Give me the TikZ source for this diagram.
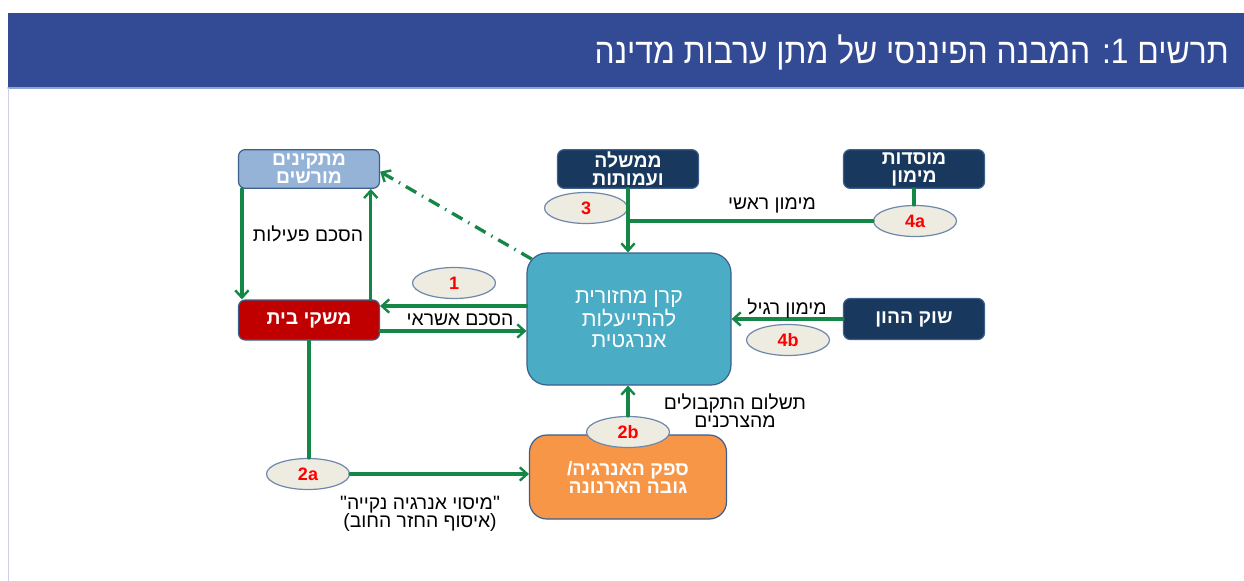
\documentclass[tikz,border=0pt]{standalone}
\usepackage{fontspec}
\usetikzlibrary{arrows.meta,shapes.geometric}
\TeXXeTstate=1
\newfontfamily\hebfont[Script=Hebrew]{Liberation Sans}
\newfontfamily\titlefont[Script=Hebrew, FakeStretch=0.9]{Liberation Sans}
\newcommand{\hb}[1]{\beginR #1\endR}
\definecolor{barblue}{RGB}{51,74,149}
\definecolor{barline}{RGB}{142,165,216}
\definecolor{sideline}{RGB}{208,205,230}
\definecolor{flowgreen}{RGB}{20,134,70}
\definecolor{navy}{RGB}{24,56,94}
\definecolor{boxline}{RGB}{60,95,140}
\definecolor{instblue}{RGB}{149,179,215}
\definecolor{homered}{RGB}{192,0,0}
\definecolor{fundblue}{RGB}{75,172,198}
\definecolor{suporange}{RGB}{247,150,70}
\definecolor{ballfill}{RGB}{238,236,225}
\definecolor{ballline}{RGB}{110,135,170}
\tikzset{
  box/.style={draw=boxline, line width=0.9pt, rounded corners=5pt, text=white,
    font=\hebfont\bfseries\fontsize{14.5}{13.5}\selectfont, align=center, inner sep=0pt,
    minimum width=105.75pt, minimum height=29pt},
  numball/.style={ellipse, draw=ballline, line width=0.9pt, fill=ballfill, text=red,
    font=\hebfont\bfseries\fontsize{13.5}{14}\selectfont, inner sep=0pt,
    minimum width=62.25pt, minimum height=23.25pt},
  flow/.style={draw=flowgreen, line width=2.5pt},
  lbl/.style={font=\hebfont\fontsize{14.5}{13.5}\selectfont, align=center, inner sep=0pt}
}
\begin{document}
\begin{tikzpicture}[x=0.75pt, y=-0.75pt, >={Straight Barb[length=5.5pt, width=10pt, line width=1.8pt]}, line cap=round]
  \useasboundingbox (0,0) rectangle (1244,581);
  % title bar
  \fill[barblue] (8,13) rectangle (1244,88);
  \draw[barline, line width=1pt] (8,88) -- (1244,88);
  \draw[sideline, line width=1.2pt] (8.5,88.5) -- (8.5,581);
  \node[anchor=east, text=white, inner sep=0pt, font=\titlefont\fontsize{26.5}{26}\selectfont] (title) at (1229,52)
    {\hb{תרשים \beginL1:\endL{} המבנה הפיננסי של מתן ערבות מדינה}};

  % boxes
  \node[box, fill=instblue] (inst) at (309,169) {\hb{מתקינים}\\\hb{מורשים}};
  \node[box, fill=homered, minimum height=30pt] (home) at (309,320) {\hb{משקי בית}};
  \node[box, fill=navy] (gov) at (628,169) {\hb{ממשלה}\\\hb{ועמותות}};
  \node[box, fill=navy] (fin) at (914,169) {\hb{מוסדות}\\\hb{מימון}};
  \node[box, fill=navy, minimum height=30.75pt] (mkt) at (914,319) {\hb{שוק ההון}};
  \node[box, fill=fundblue, rounded corners=15pt, minimum width=153pt, minimum height=99pt,
    font=\hebfont\fontsize{16}{15.5}\selectfont] (fund) at (629,319)
    {\hb{קרן מחזורית}\\\hb{להתייעלות}\\\hb{אנרגטית}};
  \node[box, fill=suporange, rounded corners=13pt, minimum width=147.75pt, minimum height=63pt]
    (sup) at (628,477) {\hb{ספק האנרגיה/}\\\hb{גובה הארנונה}};

  % numbered ellipses
  \node[numball] (e1) at (454,283) {1};
  \node[numball] (e3) at (586,208) {3};
  \node[numball] (e4a) at (915,221) {4a};
  \node[numball] (e4b) at (788,340) {4b};
  \node[numball] (e2b) at (628,432) {2b};
  \node[numball] (e2a) at (308,474) {2a};

  % connectors
  \draw[flow,->] ([xshift=3pt]inst.south west) -- ([xshift=3pt]home.north west);
  \draw[flow,->] ([xshift=-7pt]home.north east) -- ([xshift=-7pt]inst.south east);
  \draw[flow,->] ([yshift=9.75pt]fund.west) -- ([yshift=9.75pt]fund.west -| home.east);
  \draw[flow,->] ([yshift=-8.25pt]home.east) -- ([yshift=-8.25pt]home.east -| fund.west);
  \draw[flow,->, dash pattern=on 9pt off 5pt on 1pt off 5pt, line cap=butt]
    ([shift={(4pt,-5pt)}]fund.north west) -- ([yshift=-2pt]inst.east);
  \draw[flow,->] (gov.south) -- (gov.south |- fund.north);
  \coordinate (mj) at (gov.south |- e4a.west);
  \draw[flow] (e4a.west) -- (mj);
  \draw[flow] (fin.south) -- (fin.south |- e4a.north);
  \draw[flow,->] (mkt.west) -- (mkt.west -| fund.east);
  \draw[flow] (home.south) -- (home.south |- e2a.north);
  \draw[flow,->] (e2a.east) -- (e2a.east -| sup.west);
  \draw[flow,->] (e2b.north) -- (e2b.north |- fund.south);

  % labels
  \node[lbl] (lact) at (308,234) {\hb{הסכם פעילות}};
  \node[lbl] (lcred) at (460,320) {\hb{הסכם אשראי}};
  \node[lbl] (lmain) at (772,205) {\hb{מימון ראשי}};
  \node[lbl] (lreg) at (787,308) {\hb{מימון רגיל}};
  \node[lbl] (lpay) at (735,411) {\hb{תשלום התקבולים}\\\hb{מהצרכנים}};
  \node[lbl] (ltax) at (420,514) {\hb{"מיסוי אנרגיה נקייה"}\\\hb{(איסוף החזר החוב)}};
\end{tikzpicture}
\end{document}
